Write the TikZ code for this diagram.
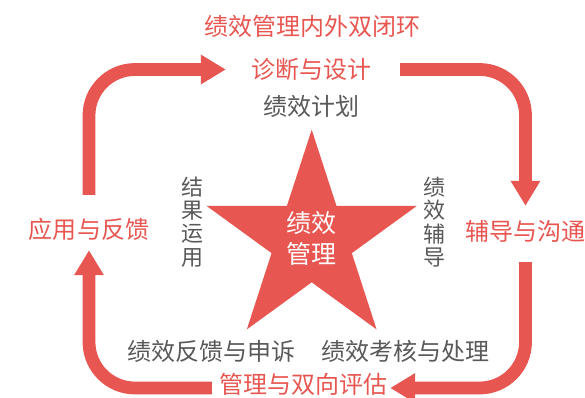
\documentclass[tikz,border=0pt]{standalone}
\usepackage{fontspec}
\setmainfont{Noto Sans CJK SC}
\usetikzlibrary{arrows.meta}
\definecolor{rojo}{RGB}{232,86,81}
\definecolor{gris}{RGB}{89,89,89}

\begin{document}
\begin{tikzpicture}[x=1bp, y=-1bp,
    lazo/.style={line width=12.8bp, rojo, rounded corners=46bp,
        -{Triangle[width=28bp, length=25bp]}},
    etapa/.style={rojo, font=\fontsize{24bp}{28bp}\selectfont, inner sep=0pt, minimum height=24bp},
    accion/.style={gris, font=\fontsize{24bp}{28bp}\selectfont, inner sep=0pt},
    vertical/.style={gris, font=\fontsize{22bp}{23.3bp}\selectfont, align=center, inner sep=0pt}]
    \useasboundingbox (0,0) rectangle (585,397);

    % Titulo
    \node[etapa] (titulo) at (312.5,26) {绩效管理内外双闭环};

    % Lazo exterior: etapas y flechas
    \node[etapa] (diseno)  at (311.5,69.5) {诊断与设计};
    \node[etapa] (tutoria) at (525.5,231)  {辅导与沟通};
    \node[etapa] (evalua)  at (303.5,384.5) {管理与双向评估};
    \node[etapa] (aplica)  at (89,229)     {应用与反馈};

    \draw[lazo, shorten <=22bp, shorten >=25.5bp] (aplica.north) |- (diseno.west);
    \draw[lazo, shorten <=28.5bp, shorten >=13bp] (diseno.east) -| (tutoria.north);
    \draw[lazo, shorten <=19bp, shorten >=2.5bp] (tutoria.south) |- ([yshift=-3.5bp]evalua.east);
    \draw[lazo, shorten <=7.5bp, shorten >=9bp] ([yshift=-3.5bp]evalua.west) -| (aplica.south);

    % Estrella central: puntas de radio 110.4, valles de radio 42.2
    \fill[rojo, shift={(311.7,240.1)}] (-90:110.4)
        \foreach \k in {1,...,9}{ -- (-90+36*\k:{110.4-68.2*mod(\k,2)}) } -- cycle;
    \node[white, font=\fontsize{25bp}{31bp}\selectfont, align=center, inner sep=0pt]
        (nucleo) at (311.5,238.5) {绩效\\管理};

    % Lazo interior
    \node[accion] (plan) at (311,106) {绩效计划};
    \node[vertical] (uso) at (192,222) {结\\果\\运\\用};
    \node[vertical] (guia) at (434,222) {绩\\效\\辅\\导};
    \node[accion] (queja) at (211,351) {绩效反馈与申诉};
    \node[accion] (examen) at (405,351) {绩效考核与处理};
\end{tikzpicture}
\end{document}
